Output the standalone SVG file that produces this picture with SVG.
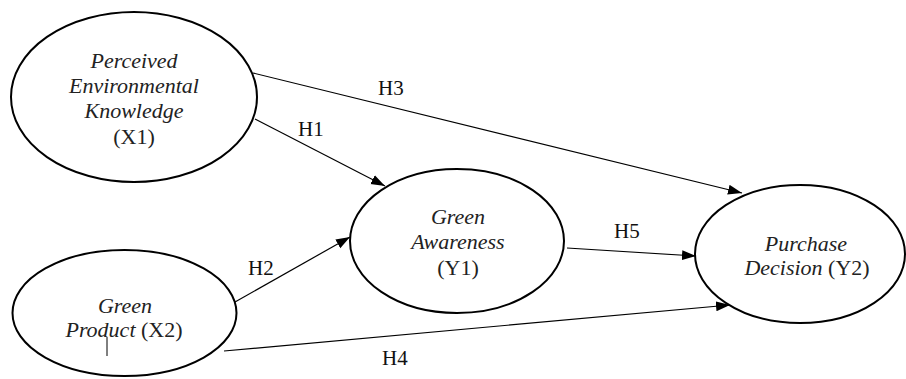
<svg xmlns="http://www.w3.org/2000/svg" width="906" height="379" viewBox="0 0 906 379">
<defs>
<style>
.node{fill:#fff;stroke:#000;stroke-width:2}
.t{font-family:"Liberation Serif","Times New Roman",serif;font-size:22px;fill:#222;text-anchor:middle}
.i{font-style:italic}
.edge{stroke:#000;stroke-width:1.2;fill:none;marker-end:url(#arr)}
.lbl{font-family:"Liberation Serif","Times New Roman",serif;font-size:21px;fill:#111}
</style>
<marker id="arr" markerUnits="userSpaceOnUse" markerWidth="16" markerHeight="12" refX="14" refY="5" orient="auto">
<path d="M0,0 L14,5 L0,10 Z" fill="#000"/>
</marker>
</defs>
<rect width="906" height="379" fill="#fff"/>
<g id="connectors">
<line class="edge" x1="253" y1="73" x2="742" y2="193"/>
<line class="edge" x1="255" y1="119" x2="385" y2="186"/>
<line class="edge" x1="235" y1="302" x2="350" y2="237"/>
<line class="edge" x1="567" y1="248" x2="696" y2="256"/>
<line class="edge" x1="224" y1="351" x2="730" y2="305"/>
<text class="lbl" x="378" y="95">H3</text>
<text class="lbl" x="298" y="136">H1</text>
<text class="lbl" x="248" y="275">H2</text>
<text class="lbl" x="614" y="238">H5</text>
<text class="lbl" x="382" y="365">H4</text>
</g>
<g id="X1">
<ellipse class="node" cx="134" cy="97" rx="123" ry="85"/>
<text class="t i" x="134" y="68">Perceived</text>
<text class="t i" x="134" y="93">Environmental</text>
<text class="t i" x="134" y="118">Knowledge</text>
<text class="t" x="134" y="144">(X1)</text>
</g>
<g id="X2">
<ellipse class="node" cx="124.5" cy="313" rx="112" ry="63"/>
<text class="t i" x="125" y="313">Green</text>
<text class="t" x="124" y="337"><tspan class="i">Product</tspan> (X2)</text>
<line x1="107" y1="337" x2="107" y2="356" stroke="#000" stroke-width="1"/>
</g>
<g id="Y1">
<ellipse class="node" cx="457" cy="241" rx="107" ry="72"/>
<text class="t i" x="458" y="224">Green</text>
<text class="t i" x="458" y="249">Awareness</text>
<text class="t" x="458" y="275">(Y1)</text>
</g>
<g id="Y2">
<ellipse class="node" cx="800" cy="254" rx="105" ry="69"/>
<text class="t i" x="806" y="251">Purchase</text>
<text class="t" x="807" y="275"><tspan class="i">Decision</tspan> (Y2)</text>
</g>
</svg>
